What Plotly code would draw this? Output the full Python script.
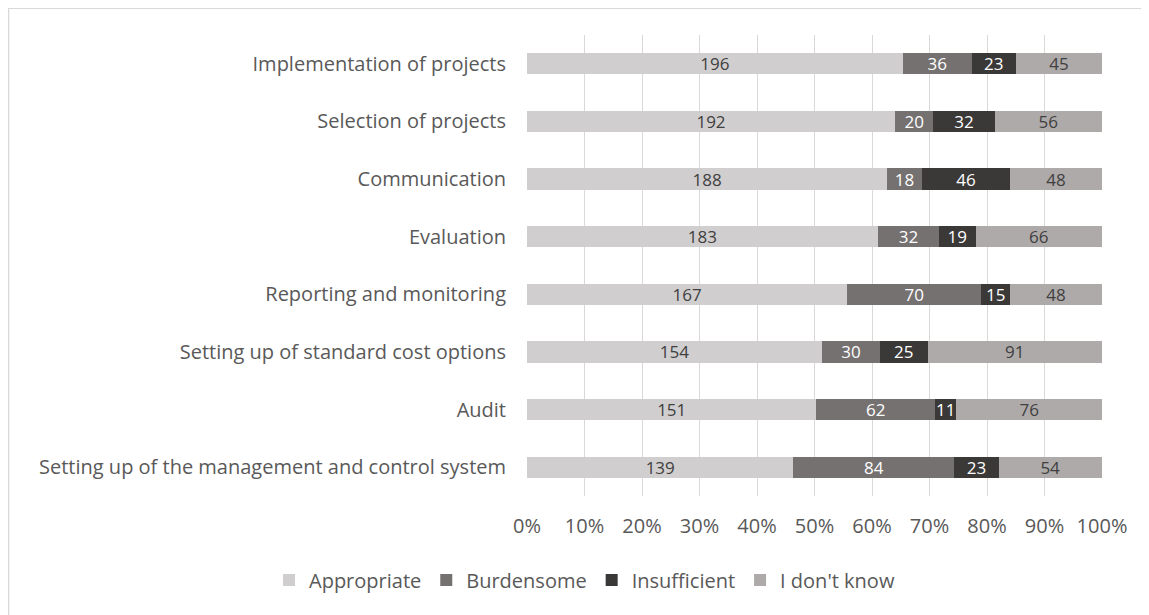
import plotly.graph_objects as go

categories = [
    "Implementation of projects",
    "Selection of projects",
    "Communication",
    "Evaluation",
    "Reporting and monitoring",
    "Setting up of standard cost options",
    "Audit",
    "Setting up of the management and control system",
]
appropriate = [196, 192, 188, 183, 167, 154, 151, 139]
burdensome = [36, 20, 18, 32, 70, 30, 62, 84]
insufficient = [23, 32, 46, 19, 15, 25, 11, 23]
dont_know = [45, 56, 48, 66, 48, 91, 76, 54]

series = [
    ("Appropriate", appropriate, "#d0cece", "#404040"),
    ("Burdensome", burdensome, "#767171", "#ffffff"),
    ("Insufficient", insufficient, "#3b3838", "#ffffff"),
    ("I don't know", dont_know, "#aeaaaa", "#404040"),
]

FONT = "Open Sans"

fig = go.Figure()
for name, vals, color, tcolor in series:
    fig.add_trace(go.Bar(
        y=categories,
        x=vals,
        name=name,
        orientation="h",
        marker=dict(color=color, line=dict(width=0)),
        text=[str(v) for v in vals],
        textposition="inside",
        insidetextanchor="middle",
        textangle=0,
        constraintext="none",
        textfont=dict(family=FONT, size=17, color=tcolor),
        width=0.37,
    ))

# light frame round the chart area, as in the source
frame = [dict(
    type="rect", xref="paper", yref="paper",
    x0=-0.9017, x1=2.0, y0=-1.0, y1=1.058,
    line=dict(color="#d9d9d9", width=1.5),
    fillcolor="rgba(0,0,0,0)",
)]

fig.update_layout(
    barmode="stack",
    barnorm="percent",
    width=1141,
    height=607,
    margin=dict(l=519, r=47, t=27, b=119),
    paper_bgcolor="white",
    plot_bgcolor="white",
    font=dict(family=FONT, size=20, color="#595959"),
    shapes=frame,
    xaxis=dict(
        range=[0, 100], dtick=10, ticksuffix="%",
        showgrid=True, gridcolor="#d9d9d9", gridwidth=1,
        zeroline=False, showline=False, fixedrange=True,
        tickfont=dict(family=FONT, size=20, color="#595959"),
        ticklen=0, ticks="", ticklabelstandoff=16,
    ),
    yaxis=dict(
        autorange="reversed", showgrid=False, zeroline=False,
        ticks="", ticklabelstandoff=20,
        tickfont=dict(family=FONT, size=20, color="#595959"),
    ),
    legend=dict(
        orientation="h",
        x=-0.4487, xanchor="left",
        y=-0.182, yanchor="middle",
        font=dict(family=FONT, size=20, color="#595959"),
        traceorder="normal",
    ),
)

fig.write_html("out.html")
